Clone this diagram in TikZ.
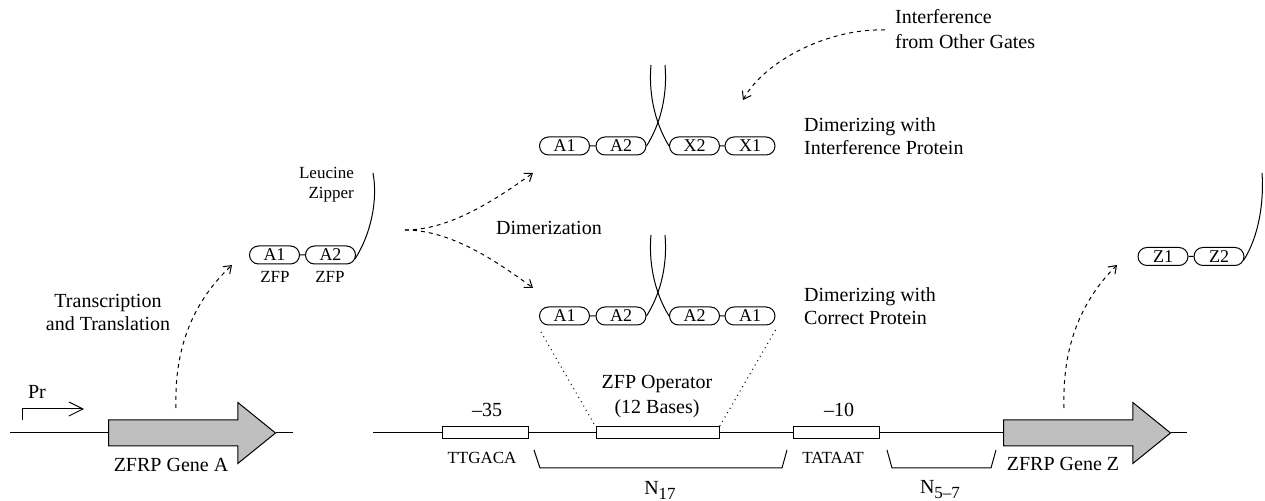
\documentclass[tikz,border=0pt]{standalone}
\usepackage{fontspec}
\setmainfont{Liberation Serif}
\usetikzlibrary{arrows.meta,shapes.misc,shapes.arrows,calc}

\newcommand{\nsub}[1]{N\raisebox{-0.55ex}{\fontsize{8.5}{9}\selectfont#1}}

\begin{document}
\begin{tikzpicture}[
    x=0.5pt, y=-0.5pt,
    line width=0.5pt,
    every node/.style={font=\fontsize{10}{11.5}\selectfont},
    small/.style={font=\fontsize{8.5}{10}\selectfont},
    zfp/.style={rounded rectangle, draw, minimum width=25pt, minimum height=9pt,
                inner sep=0pt, font=\fontsize{9}{9}\selectfont},
    site/.style={draw, minimum width=43pt, minimum height=6pt, inner sep=0pt},
    gene/.style={single arrow, draw, fill=gray!50, inner sep=0pt, text height=12.5pt,
                 text depth=0pt, minimum height=83.5pt, single arrow head extend=8.75pt,
                 single arrow tip angle=78, anchor=tail},
    dasharr/.style={dash pattern=on 2pt off 2pt, -{Straight Barb[length=3.5pt,width=5pt]}},
    link/.style={dotted},
    note/.style={align=left, anchor=west}
]
    \useasboundingbox (0,0) rectangle (1265,501);

    % DNA, left part
    \node[gene] (geneA) at (108,433) {};
    \coordinate (dnaA0) at (10,433);
    \coordinate (dnaA1) at (293,433);
    \draw (dnaA0) -- (geneA.tail);
    \draw (geneA.tip) -- (dnaA1);
    \node (geneAlab) at (171,465) {ZFRP Gene A};
    \coordinate (prom) at (22,420);
    \coordinate (promend) at (84,409);
    \draw[-{Straight Barb[length=7pt,width=7pt]}] (prom) |- (promend);
    \node (prlab) at (37,392) {Pr};

    % DNA, right part
    \node[site] (m35) at (485,433) {};
    \node[site, minimum width=61.5pt] (op) at (657.5,433) {};
    \node[site] (m10) at (836,433) {};
    \node[gene] (geneZ) at (1003,433) {};
    \coordinate (dnaB0) at (373,433);
    \coordinate (dnaB1) at (1187,433);
    \draw (dnaB0) -- (m35) -- (op) -- (m10) -- (geneZ.tail);
    \draw (geneZ.tip) -- (dnaB1);
    \node (m35lab) at (487,410) {--35};
    \node[small] (m35seq) at (482,458) {TTGACA};
    \node[align=center, font=\fontsize{10}{12.5}\selectfont] (oplab) at (657,397) {ZFP Operator\\(12 Bases)};
    \node (m10lab) at (839,410) {--10};
    \node[small] (m10seq) at (833,458) {TATAAT};
    \node (geneZlab) at (1063,464) {ZFRP Gene Z};
    \draw (534,450) -- (540,468) -- (782,468) -- (787,450);
    \draw (887,450) -- (892,468) -- (991,468) -- (996,450);
    \node (n17) at (660,490) {\nsub{17}};
    \node (n57) at (940,490) {\nsub{5--7}};

    % monomer A
    \node[zfp] (pA1) at (274.5,255) {A1};
    \node[zfp] (pA2) at (330.5,255) {A2};
    \draw (pA1) -- (pA2);
    \node[small] (zfpA1) at (275,277) {ZFP};
    \node[small] (zfpA2) at (330,277) {ZFP};
    \draw ([shift={(-1,4)}]pA2.east) .. controls +(16,-25) and +(5,27) .. (373,173);
    \node[small, align=right, anchor=east] (zipA) at (361,185) {Leucine\\Zipper};

    % dimer with interference protein
    \node[zfp] (iA1) at (564.5,146) {A1};
    \node[zfp] (iA2) at (621,146) {A2};
    \node[zfp] (iX2) at (694.5,146) {X2};
    \node[zfp] (iX1) at (750,146) {X1};
    \draw (iA1) -- (iA2) (iX2) -- (iX1);
    \draw (iA2.east) .. controls (658,128) and (668,100) .. (665,65);
    \draw (iX2.west) .. controls (658,128) and (648,100) .. (651,65);
    \node[note] (dimI) at (797,136.5) {Dimerizing with\\Interference Protein};

    % dimer with correct protein
    \node[zfp] (cA1) at (564.5,316) {A1};
    \node[zfp] (cA2) at (621,316) {A2};
    \node[zfp] (cB2) at (694.5,316) {A2};
    \node[zfp] (cB1) at (750,316) {A1};
    \draw (cA1) -- (cA2) (cB2) -- (cB1);
    \draw (cA2.east) .. controls (658,298) and (668,270) .. (665,235);
    \draw (cB2.west) .. controls (658,298) and (648,270) .. (651,235);
    \node[note] (dimC) at (797,306.5) {Dimerizing with\\Correct Protein};
    \draw[link] ([shift={(2,16)}]cA1.west) -- (op.north west);
    \draw[link] ([shift={(0,14)}]cB1.east) -- (op.north east);

    % monomer Z
    \node[zfp] (pZ1) at (1163,256.5) {Z1};
    \node[zfp] (pZ2) at (1219,256.5) {Z2};
    \draw (pZ1) -- (pZ2);
    \draw ([shift={(-1,4)}]pZ2.east) .. controls +(16,-25) and +(2,27) .. (1262,173);

    % processes
    \node[align=center] (txlab) at (108,312) {Transcription\\and Translation};
    \coordinate (txA) at (176,408);
    \coordinate (txAend) at (232,265);
    \draw[dasharr] (txA) .. controls (174,345) and (195,300) .. (txAend);
    \coordinate (txZ) at (1064,408);
    \coordinate (txZend) at (1117,265);
    \draw[dasharr] (txZ) .. controls (1062,345) and (1082,300) .. (txZend);

    \node (dimlab) at (549,228) {Dimerization};
    \coordinate (dimS) at (405,230);
    \coordinate (dimU) at (533,173);
    \coordinate (dimL) at (533,288);
    \draw[dasharr] (dimS) .. controls (450,230) and (495,200) .. (dimU);
    \draw[dasharr] (dimS) .. controls (450,230) and (495,260) .. (dimL);

    \node[note, font=\fontsize{10}{12.5}\selectfont] (intf) at (888,29.5) {Interference\\from Other Gates};
    \coordinate (intS) at (885,30);
    \coordinate (intE) at (743,100);
    \draw[dasharr] (intS) .. controls (830,28) and (765,60) .. (intE);
\end{tikzpicture}
\end{document}
